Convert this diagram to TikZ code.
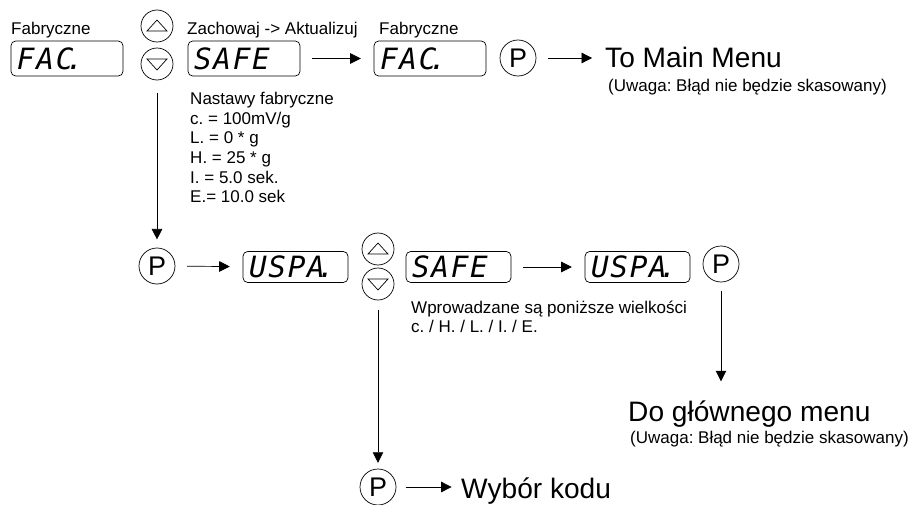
\documentclass[tikz,border=0pt]{standalone}
\usepackage{fontspec}
\setmainfont{Liberation Sans}
\newfontfamily\segfont{DejaVu Sans Mono}[LetterSpace=6]
\usetikzlibrary{positioning,arrows.meta}
\frenchspacing

\begin{document}
\begin{tikzpicture}[x=0.03cm,y=-0.03cm]
\tikzset{disp/.style={draw,rounded corners=4pt,line width=0.6pt,minimum width=3.36cm,minimum height=1.05cm,inner sep=0pt,text width=3cm,align=left,font=\segfont\itshape\fontsize{25}{25}\selectfont},
  dispsm/.style={disp,minimum width=3.15cm,minimum height=0.93cm,text width=2.79cm},
  btn/.style={draw,circle,line width=0.6pt,minimum size=0.96cm,inner sep=0pt},
  upbtn/.style={btn,path picture={\draw[shift={(path picture bounding box.center)}] (-10,5) -- (10,5) -- (0,-6) -- cycle;}},
  dnbtn/.style={btn,path picture={\draw[shift={(path picture bounding box.center)}] (-10,-5) -- (10,-5) -- (0,6) -- cycle;}},
  pbtn/.style={btn,minimum size=1.08cm,font=\fontsize{23}{23}\selectfont},
  lbl/.style={anchor=base west,inner sep=0pt,font=\fontsize{14.5}{16.8}\selectfont},
  big/.style={anchor=base west,inner sep=0pt,font=\fontsize{24}{28}\selectfont},
  go/.style={-{Triangle[length=9pt,width=9pt]},line width=0.6pt,shorten <=10pt,shorten >=11pt}}
\useasboundingbox (0,0) rectangle (920,505);

% first row: factory settings
\node[lbl] (fab1) at (11,34) {Fabryczne};
\node[disp] (fac1) at (67,58.5) {FAC\kern-.25em.};
\node[upbtn] (up1) at (157,26) {};
\node[dnbtn] (dn1) at (157,64) {};
\node[lbl] (zach) at (187,34) {Zachowaj -> Aktualizuj};
\node[disp] (safe1) at (244,58.5) {SAFE};
\node[lbl] (fab2) at (379,34) {Fabryczne};
\node[disp] (fac2) at (430,58.5) {FAC\kern-.25em.};
\node[pbtn] (p1) at (518,58) {P};
\node[big] (tomain) at (605,67) {To Main Menu};
\node[lbl] (uw1) at (608,91) {(Uwaga: Błąd nie będzie skasowany)};
\node[lbl,anchor=north west,align=left] (nast) at (190,92) {Nastawy fabryczne\\c. = 100mV/g\\L. = 0 * g\\H. = 25 * g\\I. = 5.0 sek.\\E.= 10.0 sek};

\draw[go] (safe1) -- (fac2);
\draw[go] (p1) -- (p1 -| tomain.west);

% second row: user settings
\node[pbtn] (p2) at (157,266) {P};
\node[dispsm] (uspa1) at (295.5,267) {USPA\kern-.25em.};
\node[upbtn] (up2) at (378,249) {};
\node[dnbtn] (dn2) at (378,284) {};
\node[dispsm] (safe2) at (458.5,267) {SAFE};
\node[dispsm] (uspa2) at (637.5,267) {USPA\kern-.25em.};
\node[pbtn] (p3) at (721,264) {P};
\node[lbl,anchor=north west,align=left] (wpr) at (411,300.5) {Wprowadzane są poniższe wielkości\\c. / H. / L. / I. / E.};
\node[big] (dogl) at (628,421) {Do głównego menu};
\node[lbl] (uw2) at (630,443) {(Uwaga: Błąd nie będzie skasowany)};
\node[pbtn] (p4) at (378,487) {P};
\node[big] (wyb) at (461,498) {Wybór kodu};

\draw[go,shorten <=11pt,shorten >=7pt] (dn1) -- (p2);
\draw[go] (p2) -- (uspa1);
\draw[go] (safe2) -- (uspa2);
\draw[go,shorten <=7pt,shorten >=16pt] (p3) -- (p3 |- dogl.north);
\draw[go,shorten <=8pt,shorten >=5pt] (dn2) -- (p4);
\draw[go,shorten <=8pt,shorten >=8pt] (p4) -- (p4 -| wyb.west);
\end{tikzpicture}
\end{document}
